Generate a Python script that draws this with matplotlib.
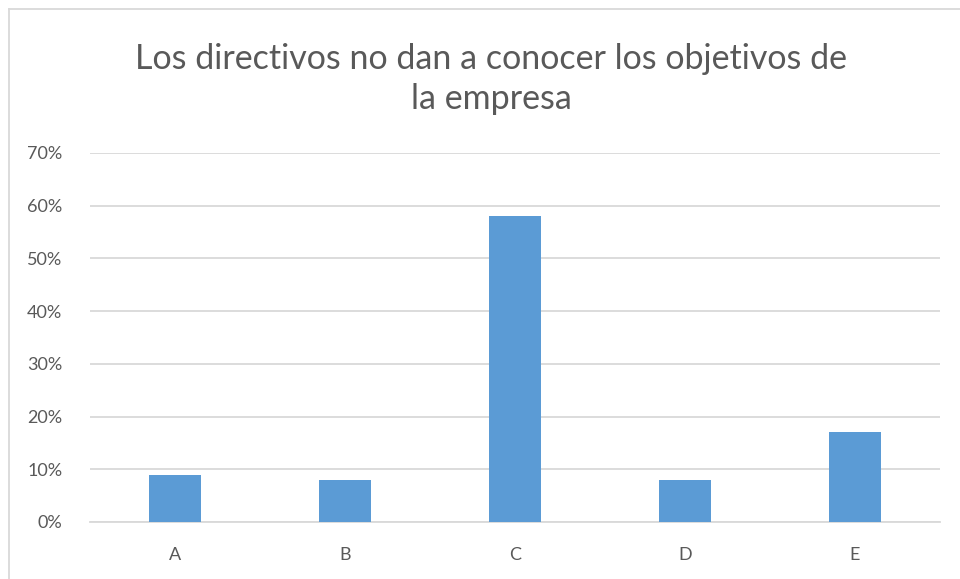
import matplotlib.pyplot as plt
from matplotlib.lines import Line2D
from matplotlib.ticker import PercentFormatter

categorias = ['A', 'B', 'C', 'D', 'E']
valores = [0.09, 0.08, 0.58, 0.08, 0.17]
titulo = 'Los directivos no dan a conocer los objetivos de\nla empresa'

plt.rcParams['font.family'] = ['Lato', 'DejaVu Sans']

fig = plt.figure(figsize=(9.6, 5.79), dpi=100)
ax = fig.add_axes([90 / 960, 1 - 522 / 579, 850 / 960, 369 / 579])

ax.bar(categorias, valores, width=0.31, color='#5B9BD5', zorder=3)

ax.set_ylim(0, 0.7)
ax.set_xlim(-0.5, 4.5)
ax.set_yticks([i / 10 for i in range(8)])
ax.yaxis.set_major_formatter(PercentFormatter(1.0, decimals=0))
ax.grid(axis='y', color='#D9D9D9', linewidth=1.3, zorder=0)
for lado in ['top', 'right', 'left']:
    ax.spines[lado].set_visible(False)
ax.spines['bottom'].set_color('#D9D9D9')
ax.spines['bottom'].set_linewidth(1.3)
ax.tick_params(axis='both', length=0, colors='#595959', labelsize=13)
ax.tick_params(axis='y', pad=20)
ax.tick_params(axis='x', pad=18)

fig.text(491 / 960, 1 - 79 / 579, titulo, ha='center', va='center',
         fontsize=24.5, color='#595959', linespacing=1.32)

# borde del gráfico
fig.add_artist(Line2D([9 / 960, 9 / 960], [0, 1 - 9 / 579], color='#D9D9D9', linewidth=1.3))
fig.add_artist(Line2D([9 / 960, 1], [1 - 9 / 579, 1 - 9 / 579], color='#D9D9D9', linewidth=1.3))

plt.savefig('out.png', dpi=100)
